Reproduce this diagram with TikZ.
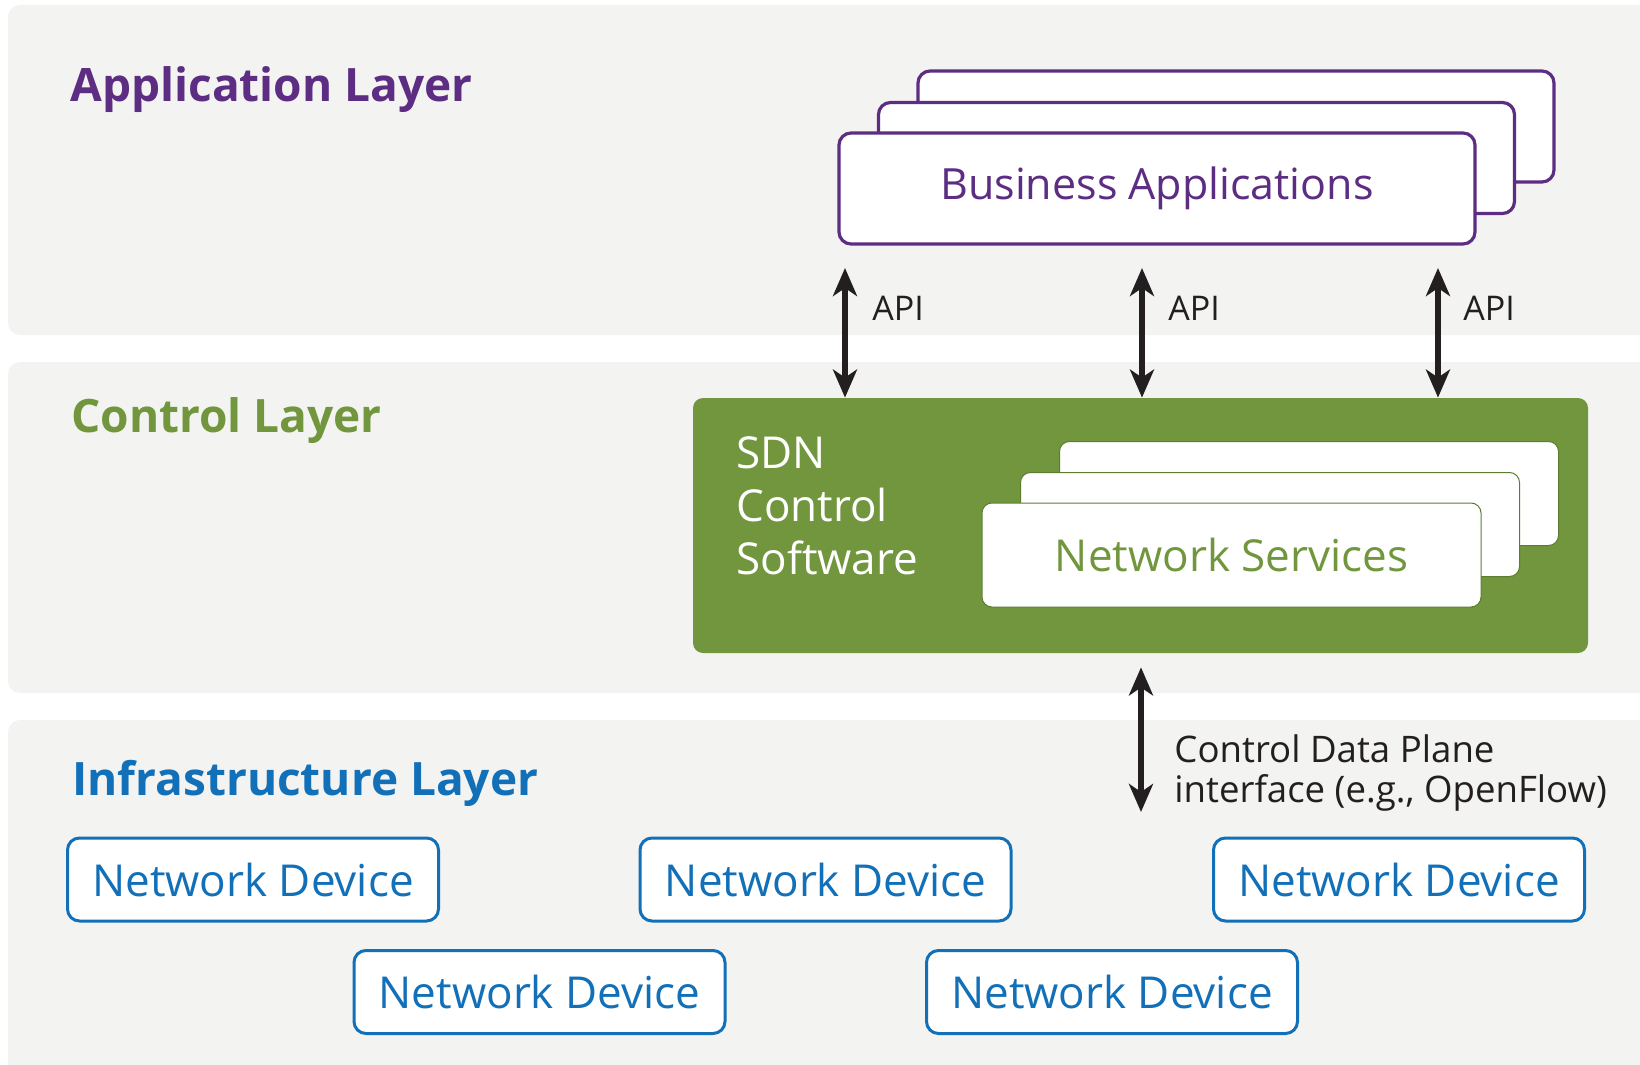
\documentclass[tikz,border=0pt]{standalone}
\usepackage{fontspec}
\setmainfont{Open Sans}
\usetikzlibrary{arrows.meta,positioning}

\definecolor{panelGray}{RGB}{243,243,241}
\definecolor{appPurple}{RGB}{92,45,130}
\definecolor{ctrlGreen}{RGB}{113,150,61}
\definecolor{edgeGreen}{RGB}{92,125,48}
\definecolor{infraBlue}{RGB}{18,112,184}
\definecolor{arrowBlack}{RGB}{35,31,32}

\tikzset{
  layer/.style={fill=panelGray, rounded corners=6pt},
  layertitle/.style={anchor=base west, inner sep=0pt, font=\fontsize{23pt}{27pt}\selectfont\bfseries},
  appbox/.style={draw=appPurple, line width=1.6pt, fill=white, rounded corners=6pt,
    minimum width=318pt, minimum height=55.5pt, inner sep=0pt},
  svcbox/.style={draw=edgeGreen, line width=0.5pt, fill=white, rounded corners=5pt,
    minimum width=249.5pt, minimum height=52pt, inner sep=0pt},
  devbox/.style={draw=infraBlue, line width=1.5pt, fill=white, rounded corners=6pt,
    minimum width=185.5pt, minimum height=41.5pt, inner sep=0pt,
    text=infraBlue, font=\fontsize{22pt}{26pt}\selectfont},
  biArrow/.style={draw=arrowBlack, line width=3pt,
    {Stealth[length=14pt,width=12pt,inset=4pt]}-{Stealth[length=14pt,width=12pt,inset=4pt]}},
  arrowlabel/.style={anchor=base west, inner sep=0pt, text=arrowBlack}
}

\begin{document}
\begin{tikzpicture}[x=0.5pt, y=-0.5pt]
  \useasboundingbox (0,0) rectangle (1640,1065);
  \fill[white] (0,0) rectangle (1640,1065);
  \clip (0,0) rectangle (1640,1065);

  \fill[layer] (8,5) rectangle (1660,335);
  \fill[layer] (8,362) rectangle (1660,693);
  \fill[layer] (8,720) rectangle (1660,1085);

  \node[layertitle, text=appPurple] (appTitle) at (70,102) {Application Layer};
  \node[layertitle, text=ctrlGreen] (ctrlTitle) at (71,432) {Control Layer};
  \node[layertitle, text=infraBlue] (infraTitle) at (72,795) {Infrastructure Layer};

  \node[appbox] (biz3) at (1236,126.5) {};
  \node[appbox] (biz2) at (1196.5,158) {};
  \node[appbox, text=appPurple, font=\fontsize{21.5pt}{25pt}\selectfont] (biz) at (1157,188.5) {Business Applications};

  \node[fill=ctrlGreen, rounded corners=5pt, minimum width=447.5pt, minimum height=127.5pt,
    inner sep=0pt] (sdn) at (1140.5,525.5) {};
  \node[anchor=north west, inner sep=0pt, align=left, text=white,
    font=\fontsize{22pt}{26.5pt}\selectfont] (sdnText) at (736,436) {SDN\\Control\\Software};
  \node[svcbox] (svc3) at (1309,493.5) {};
  \node[svcbox] (svc2) at (1270,524.5) {};
  \node[svcbox, text=ctrlGreen, font=\fontsize{22pt}{26pt}\selectfont] (svc) at (1231.5,555) {Network Services};

  \coordinate (api1) at (845,268);
  \coordinate (api2) at (1142,268);
  \coordinate (api3) at (1438,268);
  \draw[biArrow] (api1) -- (api1 |- sdn.north);
  \draw[biArrow] (api2) -- (api2 |- sdn.north);
  \draw[biArrow] (api3) -- (api3 |- sdn.north);
  \node[arrowlabel, font=\fontsize{17pt}{20pt}\selectfont] (apiLabel1) at (872,321) {API};
  \node[arrowlabel, font=\fontsize{17pt}{20pt}\selectfont] (apiLabel2) at (1168,321) {API};
  \node[arrowlabel, font=\fontsize{17pt}{20pt}\selectfont] (apiLabel3) at (1463,321) {API};

  \coordinate (cdpEnd) at (1141,812);
  \draw[biArrow, shorten <=7pt] (cdpEnd |- sdn.south) -- (cdpEnd);
  \node[arrowlabel, font=\fontsize{18.3pt}{20pt}\selectfont]
    (cdpLabel) at (1174,762) {Control Data Plane};
  \node[arrowlabel, font=\fontsize{18.3pt}{20pt}\selectfont]
    (cdpLabel2) at (1174,802) {interface (e.g., OpenFlow)};

  \node[devbox] (dev1) at (253,879.5) {Network Device};
  \node[devbox] (dev2) at (825.5,879.5) {Network Device};
  \node[devbox] (dev3) at (1399,879.5) {Network Device};
  \node[devbox] (dev4) at (539.5,992) {Network Device};
  \node[devbox] (dev5) at (1112,992) {Network Device};
\end{tikzpicture}
\end{document}
